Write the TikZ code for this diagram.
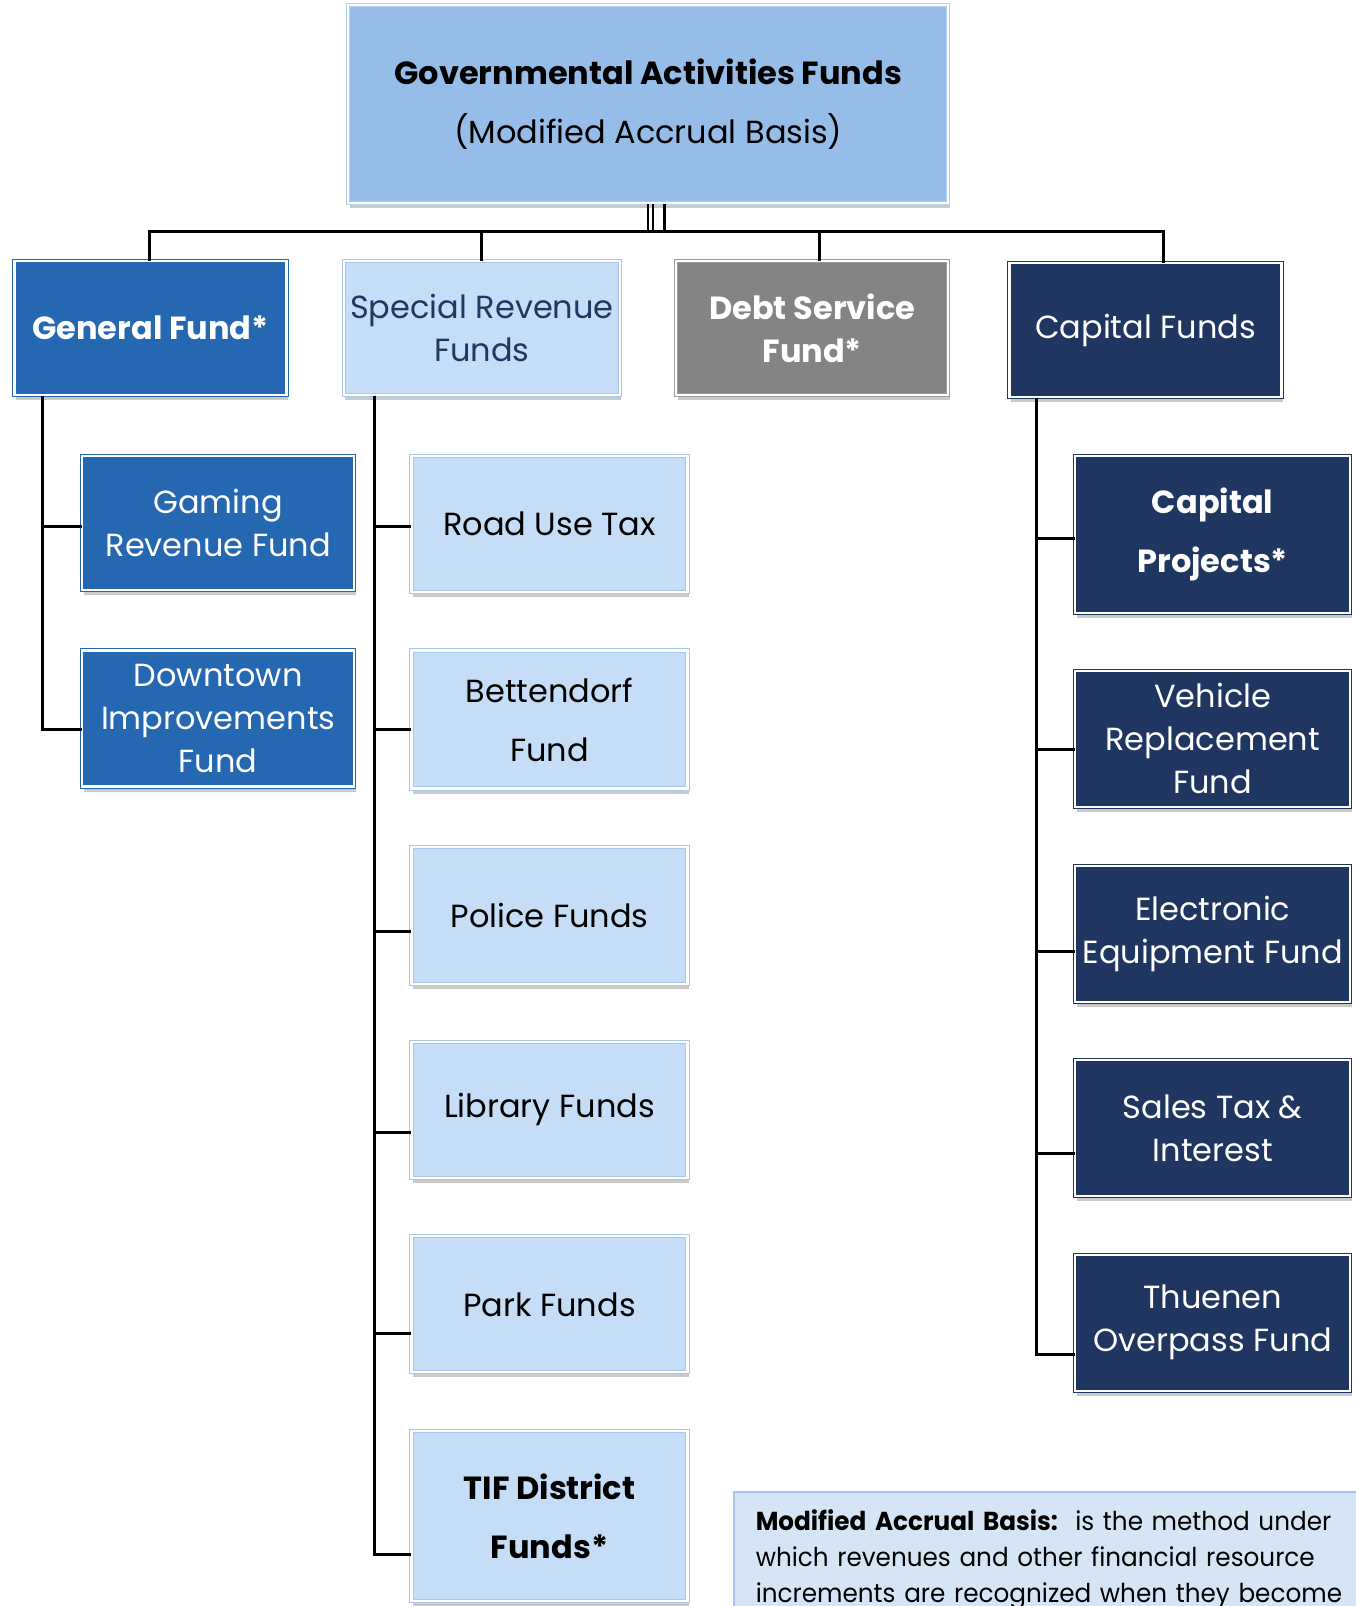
\documentclass[tikz,border=0pt]{standalone}
\usepackage{fontspec}
\setmainfont{Poppins}
\newfontfamily\notefont[FakeStretch=0.95]{Poppins}
\usetikzlibrary{shadows,calc}
\definecolor{topfill}{HTML}{95BDE8}
\definecolor{topline}{HTML}{B4CFEF}
\definecolor{genblue}{HTML}{2567B0}
\definecolor{lightfill}{HTML}{C5DDF7}
\definecolor{lightline}{HTML}{A9C8EE}
\definecolor{grayfill}{HTML}{848484}
\definecolor{grayline}{HTML}{9A9A9A}
\definecolor{navy}{HTML}{1F3660}
\definecolor{spectext}{HTML}{1F3864}
\definecolor{notefill}{HTML}{D6E5F6}
\definecolor{noteline}{HTML}{A8C6EA}
\tikzset{
  basebox/.style={rectangle, inner sep=2pt, align=center, line width=1pt,
    double=white, double distance=2.2pt,
    drop shadow={opacity=0.28, shadow xshift=1.5pt, shadow yshift=-5pt, fill=black!75},
    font=\fontsize{32}{43}\selectfont},
  wide/.style={font=\fontsize{32}{59}\selectfont},
  topbox/.style={basebox, fill=topfill, draw=topline, text=black},
  genbox/.style={basebox, fill=genblue, draw=genblue, text=white},
  lightbox/.style={basebox, fill=lightfill, draw=lightline, text=black},
  graybox/.style={basebox, fill=grayfill, draw=grayline, text=white},
  navybox/.style={basebox, fill=navy, draw=navy, text=white},
  conn/.style={draw=black, line width=3pt},
  notebox/.style={rectangle, fill=notefill, draw=noteline, line width=1.5pt,
    align=left, anchor=north west, text width=640pt, inner xsep=22pt, inner ysep=18pt,
    font=\notefont\fontsize{26}{36}\selectfont, text=black}
}
\begin{document}
\begin{tikzpicture}[x=1pt,y=-1pt]
\useasboundingbox (0,0) rectangle (1356,1606);
\clip (0,0) rectangle (1356,1606);

% top
\node[topbox, wide, minimum width=600pt, minimum height=198pt] (top) at (648.25,104)
  {\textbf{Governmental Activities Funds}\\(Modified Accrual Basis)};

% level 2
\node[genbox, minimum width=272pt, minimum height=134pt] (gen) at (150.5,328.2) {\textbf{General Fund*}};
\node[lightbox, text=spectext, minimum width=276pt, minimum height=134pt] (spec) at (481.9,328.2) {Special Revenue\\Funds};
\node[graybox, minimum width=272pt, minimum height=134pt] (debt) at (812.3,328.2) {\textbf{Debt Service}\\\textbf{Fund*}};
\node[navybox, minimum width=272pt, minimum height=134pt] (cap) at (1145.5,330) {Capital Funds};

% general children
\node[genbox, minimum width=272pt, minimum height=134pt] (gaming) at (218.2,522.9) {Gaming\\Revenue Fund};
\node[genbox, minimum width=272pt, minimum height=136pt] (downtown) at (218.2,718.5) {Downtown\\Improvements\\Fund};

% special children
\node[lightbox, minimum width=276pt, minimum height=136pt] (road) at (549.5,523.9) {Road Use Tax};
\node[lightbox, wide, minimum width=276pt, minimum height=138pt] (bett) at (549.5,719.5) {Bettendorf\\Fund};
\node[lightbox, minimum width=276pt, minimum height=137pt] (police) at (549.5,915.7) {Police Funds};
\node[lightbox, minimum width=276pt, minimum height=136pt] (library) at (549.5,1109.8) {Library Funds};
\node[lightbox, minimum width=276pt, minimum height=136pt] (park) at (549.5,1304.3) {Park Funds};
\node[lightbox, wide, minimum width=276pt, minimum height=170pt] (tif) at (549.5,1515.9) {\textbf{TIF District}\\\textbf{Funds*}};

% capital children
\node[navybox, wide, minimum width=275pt, minimum height=157pt] (capproj) at (1212.7,534.1) {\textbf{Capital}\\\textbf{Projects*}};
\node[navybox, minimum width=275pt, minimum height=136pt] (vehicle) at (1212.7,738.9) {Vehicle\\Replacement\\Fund};
\node[navybox, minimum width=275pt, minimum height=136pt] (elec) at (1212.7,933.6) {Electronic\\Equipment Fund};
\node[navybox, minimum width=275pt, minimum height=136pt] (sales) at (1212.7,1128.2) {Sales Tax \&\\Interest};
\node[navybox, minimum width=275pt, minimum height=136pt] (thuenen) at (1212.7,1322.8) {Thuenen\\Overpass Fund};

% note
\node[notebox] (note) at (733,1491)
  {\textbf{Modified Accrual Basis:}\ \ is the method under\\which revenues and other financial resource\\increments are recognized when they become};

% bus
\coordinate (busL) at (149.5,231.5);
\coordinate (busR) at (1163.5,231.5);
\coordinate (busD) at (819,231.5);
\foreach \dx in {-0.25,4.75,16.25}
  \draw[line width=2.6pt] ([xshift=\dx pt]top.south) -- ++(0,26.5);
\draw[conn] ([xshift=-1.5pt]busL) -- ([xshift=1.5pt]busR);
\draw[conn] (busL) -- (busL |- gen.north);
\draw[conn] (spec.north |- busL) -- (spec.north);
\draw[conn] (busD) -- (busD |- debt.north);
\draw[conn] (busR) -- (busR |- cap.north);

% general trunk
\coordinate (gt) at ([xshift=28pt]gen.south west);
\draw[conn] (gt) |- ($(gaming.west)+(0,4)$);
\draw[conn] (gt) |- ($(downtown.west)+(0,10.5)$);

% special trunk
\coordinate (st) at ([xshift=31pt]spec.south west);
\draw[conn] (st) |- ($(road.west)+(0,3)$);
\draw[conn] (st) |- ($(bett.west)+(0,9.5)$);
\draw[conn] (st) |- ($(police.west)+(0,15.3)$);
\draw[conn] (st) |- ($(library.west)+(0,23)$);
\draw[conn] (st) |- ($(park.west)+(0,29.5)$);
\draw[conn] (st) |- ($(tif.west)+(0,39)$);

% capital trunk
\coordinate (ct) at ([xshift=27.7pt]cap.south west);
\draw[conn] (ct) |- ($(capproj.west)+(0,4)$);
\draw[conn] (ct) |- ($(vehicle.west)+(0,11)$);
\draw[conn] (ct) |- ($(elec.west)+(0,18)$);
\draw[conn] (ct) |- ($(sales.west)+(0,25)$);
\draw[conn] (ct) |- ($(thuenen.west)+(0,32)$);
\end{tikzpicture}
\end{document}
